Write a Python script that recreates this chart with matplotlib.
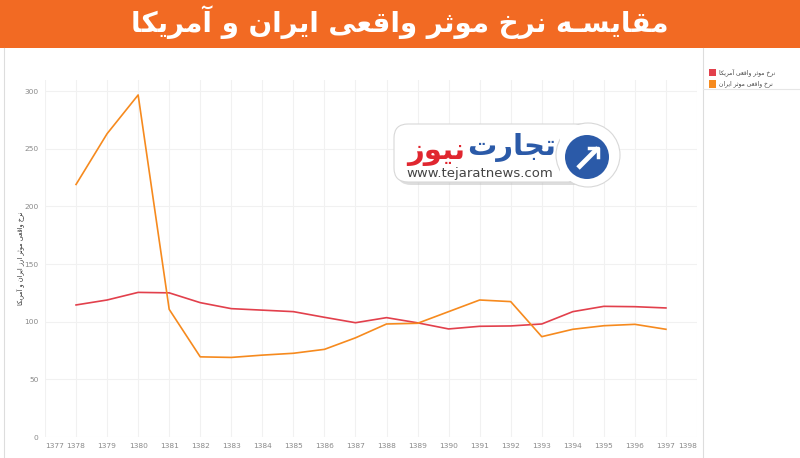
# Real effective exchange rate: Iran vs USA (chart recreation)
import matplotlib
matplotlib.use('Agg')
import matplotlib.pyplot as plt
from matplotlib import font_manager
from matplotlib.font_manager import FontProperties
from matplotlib.ft2font import FT2Font
from matplotlib.patches import Rectangle, FancyBboxPatch, Circle

# Data
years = list(range(1378, 1398))
usa = [114.5, 118.8, 125.4, 125.0, 116.5, 111.3, 110.0, 108.7, 103.8, 99.1,
       103.5, 99.0, 93.7, 96.0, 96.3, 98.0, 108.7, 113.3, 113.0, 111.9]
iran = [219.0, 263.0, 296.6, 110.7, 69.5, 69.0, 71.0, 72.6, 76.0, 86.0,
        98.0, 98.6, 108.7, 118.8, 117.4, 87.0, 93.4, 96.5, 97.7, 93.4]
x_ticks = list(range(1377, 1399))
y_ticks = [0, 50, 100, 150, 200, 250, 300]

title_text = 'مقایسـه نرخ موثر واقعی ایران و آمریکا'
usa_label = 'نرخ موثر واقعی آمریکا'
iran_label = 'نرخ واقعی موثر ایران'
y_label = 'نرخ واقعی موثر ارز ایران و آمریکا'

red = '#e2404c'
orange = '#f68a1e'
banner = '#f26a23'

# Simple Arabic/Persian shaping (matplotlib has no shaping or bidi)
RIGHT_ONLY = set('اآدذرزوژ')
FORMS = {
    'ا': ('\uFE8D', '\uFE8E', None, None),
    'آ': ('\uFE81', '\uFE82', None, None),
    'ر': ('\uFEAD', '\uFEAE', None, None),
    'ز': ('\uFEAF', '\uFEB0', None, None),
    'و': ('\uFEED', '\uFEEE', None, None),
    'ت': ('\uFE95', '\uFE96', '\uFE97', '\uFE98'),
    'ث': ('\uFE99', '\uFE9A', '\uFE9B', '\uFE9C'),
    'ج': ('\uFE9D', '\uFE9E', '\uFE9F', '\uFEA0'),
    'خ': ('\uFEA5', '\uFEA6', '\uFEA7', '\uFEA8'),
    'س': ('\uFEB1', '\uFEB2', '\uFEB3', '\uFEB4'),
    'ع': ('\uFEC9', '\uFECA', '\uFECB', '\uFECC'),
    'ق': ('\uFED5', '\uFED6', '\uFED7', '\uFED8'),
    'م': ('\uFEE1', '\uFEE2', '\uFEE3', '\uFEE4'),
    'ن': ('\uFEE5', '\uFEE6', '\uFEE7', '\uFEE8'),
    'ه': ('\uFEE9', '\uFEEA', '\uFEEB', '\uFEEC'),
    'ی': ('\uFBFC', '\uFBFD', '\uFBFE', '\uFBFF'),
    'ک': ('\uFB8E', '\uFB8F', '\uFB90', '\uFB91'),
    'ـ': ('ـ', 'ـ', 'ـ', 'ـ'),
}

# fall back to Arabic yeh/kaf forms if the font lacks the Persian ones
charmaps = []
for w in ['normal', 'bold']:
    path = font_manager.findfont(FontProperties(family='DejaVu Sans', weight=w))
    charmaps.append(FT2Font(path).get_charmap())
for key, alt in [('ی', ('\uFEEF', '\uFEF0', '\uFEF3', '\uFEF4')),
                 ('ک', ('\uFED9', '\uFEDA', '\uFEDB', '\uFEDC'))]:
    if not all(ord(g) in cm for g in FORMS[key] for cm in charmaps):
        FORMS[key] = alt


def shape(text):
    out = []
    for i, c in enumerate(text):
        if c not in FORMS:
            out.append(c)
            continue
        prev = text[i - 1] if i > 0 else None
        nxt = text[i + 1] if i + 1 < len(text) else None
        join_prev = prev in FORMS and prev not in RIGHT_ONLY
        join_next = c not in RIGHT_ONLY and nxt in FORMS
        iso, fin, ini, med = FORMS[c]
        if join_prev and join_next:
            out.append(med)
        elif join_prev:
            out.append(fin)
        elif join_next:
            out.append(ini)
        else:
            out.append(iso)
    return ''.join(reversed(out))


plt.rcParams['font.family'] = ['DejaVu Sans']

fig = plt.figure(figsize=(8, 4.58), dpi=100)
fig.patch.set_facecolor('white')

# Main chart
ax = fig.add_axes([45 / 800, 21 / 458, 652 / 800, 357.5 / 458])
ax.plot(years, usa, color=red, lw=1.2, zorder=3)
ax.plot(years, iran, color=orange, lw=1.2, zorder=3)

ax.set_xlim(1377, 1398)
ax.set_ylim(0, 310)
ax.set_xticks(x_ticks)
ax.set_yticks(y_ticks)
ax.set_xticklabels([str(v) for v in x_ticks])
ax.grid(True, color='#f1f1f1', lw=0.8, zorder=0)
for s in ax.spines.values():
    s.set_visible(False)
ax.tick_params(length=0, labelsize=5.4, labelcolor='#8a8a8a', pad=4.5)
labels = ax.get_xticklabels()
labels[0].set_ha('left')
labels[-1].set_ha('right')

# y axis title, placed like the reference
fig.text(20 / 800, 1 - 258 / 458, shape(y_label), rotation=90, fontsize=4.8,
         color='#333333', ha='center', va='center')

# Overlay in pixel coordinates for the page decorations
ov = fig.add_axes([0, 0, 1, 1], zorder=5)
ov.set_xlim(0, 800)
ov.set_ylim(458, 0)
ov.axis('off')
ov.patch.set_alpha(0)

ov.add_patch(Rectangle((0, 0), 800, 48, color=banner, lw=0))
ov.text(400, 22, shape(title_text), color='white', fontsize=20,
        fontweight='bold', ha='center', va='center')

# frame lines
ov.plot([3.5, 3.5], [48, 458], color='#dddddd', lw=0.8)
ov.plot([703, 703], [48, 458], color='#dddddd', lw=0.8)
ov.plot([703, 800], [89, 89], color='#e6e6e6', lw=0.8)

# legend
for yy, col, lab in [(72.5, red, usa_label), (84, orange, iran_label)]:
    ov.add_patch(Rectangle((708.5, yy - 3.8), 7.5, 7.5, color=col, lw=0))
    ov.text(719, yy, shape(lab), fontsize=4.3, color='#444444',
            ha='left', va='center')

# watermark logo
ov.add_patch(FancyBboxPatch((397, 127), 205, 58, boxstyle='round,pad=0,rounding_size=14',
                            fc='#bcbcbc', ec='none', alpha=0.5))
ov.add_patch(FancyBboxPatch((394, 124), 205, 58, boxstyle='round,pad=0,rounding_size=14',
                            fc='white', ec='#d8d8d8', lw=0.8))
ov.add_patch(Circle((588, 155), 32, fc='white', ec='#d8d8d8', lw=0.8))
ov.add_patch(Rectangle((560, 125), 20, 56, fc='white', ec='none'))
ov.add_patch(Circle((587, 157), 22, fc='#2b5aa8', ec='none'))
ov.plot([578, 598], [168, 148], color='white', lw=3.5, solid_capstyle='butt')
ov.plot([589, 598, 598], [148, 148, 157], color='white', lw=2.5)
ov.text(512, 148, shape('تجارت'), color='#2b5aa8', fontsize=21,
        fontweight='bold', ha='center', va='center')
ov.text(436, 152, shape('نیوز'), color='#e0262f', fontsize=21,
        fontweight='bold', ha='center', va='center')
ov.text(480, 174, 'www.tejaratnews.com', color='#444444', fontsize=9.5,
        ha='center', va='center')

fig.savefig('out.png', dpi=100)
